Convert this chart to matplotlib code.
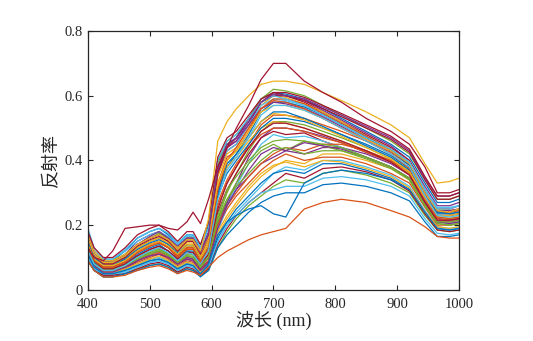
import matplotlib
matplotlib.use("Agg")
import matplotlib.pyplot as plt

# wavelength sampling (nm)
wavelengths = [400, 410, 425, 440, 460, 480, 500, 515, 530, 545, 560, 570, 582,
               595, 610, 625, 640, 660, 680, 700, 720, 750, 780, 810, 850, 890,
               920, 945, 965, 985, 1000]

# reflectance curves, grouped by plateau height
spectra_high = [
    [0.17, 0.12, 0.09, 0.09, 0.12, 0.16, 0.18, 0.19, 0.17, 0.14, 0.17, 0.17, 0.13,
     0.20, 0.40, 0.45, 0.47, 0.53, 0.59, 0.61, 0.605, 0.59, 0.56, 0.53, 0.49, 0.45, 0.41, 0.33, 0.27, 0.27, 0.28],
    [0.16, 0.11, 0.085, 0.085, 0.11, 0.15, 0.17, 0.18, 0.16, 0.13, 0.16, 0.16, 0.12,
     0.18, 0.38, 0.44, 0.46, 0.52, 0.58, 0.60, 0.60, 0.585, 0.555, 0.525, 0.485, 0.445, 0.40, 0.32, 0.26, 0.26, 0.27],
    [0.15, 0.10, 0.08, 0.08, 0.10, 0.14, 0.16, 0.17, 0.15, 0.12, 0.15, 0.15, 0.11,
     0.16, 0.36, 0.43, 0.45, 0.51, 0.58, 0.61, 0.60, 0.58, 0.55, 0.52, 0.48, 0.44, 0.40, 0.31, 0.25, 0.25, 0.26],
    [0.14, 0.10, 0.075, 0.075, 0.095, 0.13, 0.15, 0.16, 0.14, 0.11, 0.14, 0.14, 0.10,
     0.15, 0.35, 0.42, 0.44, 0.50, 0.57, 0.60, 0.595, 0.575, 0.55, 0.52, 0.475, 0.435, 0.395, 0.31, 0.25, 0.245, 0.25],
    [0.18, 0.12, 0.095, 0.095, 0.12, 0.15, 0.17, 0.18, 0.165, 0.14, 0.165, 0.165, 0.13,
     0.19, 0.37, 0.43, 0.45, 0.51, 0.57, 0.59, 0.585, 0.57, 0.545, 0.515, 0.475, 0.435, 0.395, 0.31, 0.255, 0.255, 0.26],
    [0.13, 0.09, 0.07, 0.07, 0.09, 0.12, 0.14, 0.15, 0.13, 0.10, 0.13, 0.13, 0.09,
     0.14, 0.33, 0.41, 0.43, 0.49, 0.56, 0.59, 0.59, 0.575, 0.545, 0.515, 0.475, 0.435, 0.39, 0.30, 0.24, 0.24, 0.245],
    [0.16, 0.11, 0.09, 0.09, 0.11, 0.14, 0.16, 0.175, 0.16, 0.13, 0.16, 0.16, 0.12,
     0.17, 0.39, 0.46, 0.48, 0.53, 0.59, 0.62, 0.615, 0.60, 0.57, 0.54, 0.50, 0.46, 0.42, 0.34, 0.28, 0.28, 0.29],
    [0.12, 0.085, 0.065, 0.065, 0.08, 0.11, 0.13, 0.14, 0.12, 0.095, 0.12, 0.12, 0.085,
     0.13, 0.30, 0.39, 0.42, 0.48, 0.55, 0.58, 0.58, 0.565, 0.54, 0.51, 0.47, 0.43, 0.385, 0.30, 0.24, 0.235, 0.24],
    [0.17, 0.11, 0.085, 0.085, 0.105, 0.14, 0.165, 0.18, 0.16, 0.135, 0.16, 0.16, 0.12,
     0.17, 0.37, 0.44, 0.46, 0.51, 0.56, 0.58, 0.575, 0.56, 0.535, 0.505, 0.465, 0.43, 0.39, 0.30, 0.245, 0.245, 0.25],
    [0.15, 0.10, 0.08, 0.08, 0.10, 0.135, 0.155, 0.165, 0.15, 0.12, 0.15, 0.15, 0.11,
     0.16, 0.36, 0.44, 0.47, 0.53, 0.58, 0.60, 0.60, 0.585, 0.56, 0.535, 0.50, 0.465, 0.425, 0.34, 0.28, 0.28, 0.29],
    [0.14, 0.095, 0.075, 0.075, 0.09, 0.12, 0.14, 0.15, 0.135, 0.11, 0.135, 0.135, 0.095,
     0.14, 0.32, 0.40, 0.43, 0.49, 0.55, 0.57, 0.57, 0.555, 0.53, 0.50, 0.465, 0.43, 0.39, 0.30, 0.245, 0.24, 0.25],
    [0.19, 0.13, 0.095, 0.095, 0.125, 0.16, 0.18, 0.19, 0.175, 0.145, 0.17, 0.17, 0.14,
     0.21, 0.40, 0.46, 0.48, 0.53, 0.58, 0.60, 0.59, 0.57, 0.54, 0.51, 0.47, 0.435, 0.395, 0.31, 0.25, 0.25, 0.26],
    [0.13, 0.09, 0.07, 0.07, 0.085, 0.115, 0.135, 0.145, 0.13, 0.105, 0.13, 0.13, 0.09,
     0.13, 0.31, 0.40, 0.44, 0.50, 0.56, 0.585, 0.58, 0.56, 0.53, 0.50, 0.46, 0.42, 0.375, 0.29, 0.23, 0.23, 0.235],
    [0.16, 0.11, 0.085, 0.085, 0.105, 0.14, 0.16, 0.17, 0.155, 0.125, 0.155, 0.155, 0.115,
     0.17, 0.38, 0.45, 0.47, 0.52, 0.58, 0.605, 0.60, 0.59, 0.565, 0.54, 0.505, 0.47, 0.43, 0.345, 0.29, 0.29, 0.30],
    [0.12, 0.08, 0.06, 0.06, 0.075, 0.10, 0.12, 0.13, 0.115, 0.09, 0.115, 0.11, 0.08,
     0.12, 0.28, 0.37, 0.41, 0.47, 0.54, 0.57, 0.57, 0.555, 0.53, 0.50, 0.46, 0.42, 0.38, 0.29, 0.23, 0.225, 0.23],
    [0.18, 0.13, 0.10, 0.10, 0.13, 0.17, 0.19, 0.20, 0.18, 0.15, 0.18, 0.18, 0.14,
     0.21, 0.41, 0.47, 0.49, 0.54, 0.59, 0.61, 0.61, 0.595, 0.57, 0.545, 0.51, 0.475, 0.435, 0.35, 0.29, 0.29, 0.30],
]

spectra_mid = [
    [0.14, 0.09, 0.07, 0.07, 0.09, 0.12, 0.14, 0.15, 0.13, 0.105, 0.13, 0.13, 0.09,
     0.12, 0.26, 0.33, 0.38, 0.45, 0.51, 0.54, 0.54, 0.53, 0.51, 0.49, 0.46, 0.425, 0.385, 0.30, 0.24, 0.24, 0.245],
    [0.12, 0.08, 0.06, 0.06, 0.075, 0.10, 0.12, 0.13, 0.11, 0.09, 0.11, 0.11, 0.075,
     0.10, 0.22, 0.30, 0.36, 0.43, 0.49, 0.52, 0.52, 0.51, 0.49, 0.47, 0.44, 0.405, 0.37, 0.28, 0.225, 0.22, 0.225],
    [0.15, 0.10, 0.08, 0.08, 0.10, 0.13, 0.15, 0.16, 0.14, 0.115, 0.14, 0.14, 0.10,
     0.14, 0.30, 0.38, 0.42, 0.47, 0.52, 0.55, 0.55, 0.53, 0.505, 0.48, 0.445, 0.41, 0.37, 0.285, 0.23, 0.23, 0.235],
    [0.11, 0.075, 0.055, 0.055, 0.065, 0.09, 0.105, 0.115, 0.10, 0.08, 0.10, 0.095, 0.065,
     0.09, 0.20, 0.27, 0.33, 0.41, 0.47, 0.50, 0.50, 0.49, 0.475, 0.455, 0.425, 0.395, 0.36, 0.275, 0.22, 0.215, 0.22],
    [0.13, 0.085, 0.065, 0.065, 0.08, 0.105, 0.125, 0.135, 0.12, 0.095, 0.12, 0.115, 0.08,
     0.11, 0.24, 0.31, 0.36, 0.42, 0.47, 0.49, 0.48, 0.485, 0.46, 0.44, 0.41, 0.38, 0.345, 0.265, 0.21, 0.21, 0.215],
    [0.16, 0.105, 0.08, 0.08, 0.10, 0.13, 0.15, 0.16, 0.145, 0.12, 0.145, 0.145, 0.105,
     0.15, 0.31, 0.38, 0.41, 0.46, 0.50, 0.52, 0.515, 0.50, 0.48, 0.46, 0.43, 0.40, 0.36, 0.28, 0.225, 0.225, 0.23],
    [0.10, 0.07, 0.05, 0.05, 0.06, 0.08, 0.095, 0.10, 0.09, 0.07, 0.085, 0.08, 0.055,
     0.08, 0.18, 0.26, 0.32, 0.39, 0.45, 0.48, 0.47, 0.475, 0.46, 0.44, 0.41, 0.38, 0.345, 0.265, 0.21, 0.205, 0.21],
    [0.14, 0.09, 0.07, 0.07, 0.085, 0.115, 0.135, 0.145, 0.13, 0.10, 0.125, 0.125, 0.085,
     0.12, 0.27, 0.34, 0.39, 0.44, 0.48, 0.50, 0.50, 0.49, 0.47, 0.455, 0.425, 0.395, 0.355, 0.27, 0.22, 0.215, 0.22],
    [0.12, 0.08, 0.06, 0.06, 0.07, 0.095, 0.11, 0.12, 0.105, 0.085, 0.105, 0.10, 0.07,
     0.10, 0.21, 0.28, 0.33, 0.39, 0.43, 0.45, 0.43, 0.46, 0.445, 0.43, 0.405, 0.375, 0.34, 0.26, 0.205, 0.20, 0.205],
    [0.15, 0.10, 0.075, 0.075, 0.095, 0.125, 0.145, 0.155, 0.14, 0.11, 0.135, 0.135, 0.095,
     0.13, 0.29, 0.36, 0.40, 0.45, 0.50, 0.53, 0.53, 0.52, 0.50, 0.48, 0.45, 0.415, 0.375, 0.29, 0.235, 0.235, 0.24],
    [0.11, 0.075, 0.055, 0.055, 0.07, 0.09, 0.105, 0.11, 0.10, 0.08, 0.095, 0.09, 0.06,
     0.085, 0.19, 0.26, 0.31, 0.37, 0.42, 0.44, 0.43, 0.455, 0.445, 0.435, 0.41, 0.38, 0.345, 0.265, 0.21, 0.205, 0.21],
    [0.13, 0.09, 0.065, 0.065, 0.08, 0.105, 0.125, 0.135, 0.12, 0.095, 0.115, 0.115, 0.08,
     0.11, 0.25, 0.33, 0.38, 0.44, 0.49, 0.515, 0.515, 0.50, 0.48, 0.46, 0.43, 0.395, 0.355, 0.27, 0.215, 0.215, 0.22],
    [0.17, 0.12, 0.09, 0.09, 0.11, 0.14, 0.16, 0.17, 0.155, 0.13, 0.155, 0.155, 0.115,
     0.16, 0.33, 0.40, 0.43, 0.47, 0.52, 0.545, 0.54, 0.525, 0.50, 0.475, 0.44, 0.405, 0.365, 0.285, 0.23, 0.23, 0.235],
    [0.12, 0.08, 0.06, 0.06, 0.075, 0.10, 0.115, 0.125, 0.11, 0.085, 0.105, 0.105, 0.07,
     0.10, 0.23, 0.31, 0.35, 0.40, 0.44, 0.46, 0.465, 0.46, 0.45, 0.44, 0.41, 0.38, 0.34, 0.26, 0.205, 0.20, 0.205],
]

spectra_low = [
    [0.11, 0.07, 0.05, 0.05, 0.06, 0.08, 0.095, 0.10, 0.09, 0.07, 0.085, 0.08, 0.055,
     0.08, 0.17, 0.22, 0.26, 0.31, 0.35, 0.38, 0.40, 0.39, 0.42, 0.42, 0.40, 0.375, 0.34, 0.26, 0.21, 0.205, 0.21],
    [0.10, 0.065, 0.045, 0.045, 0.055, 0.07, 0.085, 0.09, 0.08, 0.06, 0.075, 0.07, 0.05,
     0.07, 0.15, 0.20, 0.24, 0.28, 0.32, 0.36, 0.38, 0.37, 0.40, 0.40, 0.38, 0.355, 0.32, 0.245, 0.195, 0.19, 0.195],
    [0.12, 0.08, 0.055, 0.055, 0.065, 0.085, 0.10, 0.11, 0.095, 0.075, 0.09, 0.085, 0.06,
     0.09, 0.19, 0.25, 0.29, 0.33, 0.37, 0.40, 0.42, 0.40, 0.41, 0.41, 0.39, 0.36, 0.33, 0.255, 0.20, 0.20, 0.205],
    [0.09, 0.06, 0.04, 0.04, 0.05, 0.065, 0.075, 0.08, 0.07, 0.055, 0.065, 0.06, 0.045,
     0.06, 0.13, 0.18, 0.22, 0.26, 0.29, 0.32, 0.34, 0.33, 0.36, 0.37, 0.355, 0.33, 0.30, 0.23, 0.185, 0.18, 0.185],
    [0.10, 0.07, 0.05, 0.05, 0.06, 0.075, 0.09, 0.095, 0.085, 0.065, 0.08, 0.075, 0.05,
     0.075, 0.16, 0.21, 0.25, 0.29, 0.33, 0.36, 0.37, 0.36, 0.39, 0.39, 0.37, 0.345, 0.31, 0.24, 0.19, 0.185, 0.19],
    [0.13, 0.085, 0.06, 0.06, 0.07, 0.09, 0.11, 0.12, 0.105, 0.08, 0.10, 0.095, 0.065,
     0.10, 0.21, 0.27, 0.31, 0.35, 0.39, 0.41, 0.43, 0.42, 0.44, 0.44, 0.42, 0.39, 0.355, 0.275, 0.22, 0.215, 0.22],
    [0.09, 0.06, 0.045, 0.045, 0.05, 0.065, 0.08, 0.085, 0.075, 0.055, 0.07, 0.065, 0.045,
     0.065, 0.14, 0.19, 0.23, 0.27, 0.30, 0.33, 0.36, 0.345, 0.375, 0.38, 0.365, 0.34, 0.305, 0.235, 0.185, 0.18, 0.185],
    [0.11, 0.075, 0.055, 0.055, 0.065, 0.08, 0.095, 0.105, 0.09, 0.07, 0.085, 0.08, 0.055,
     0.085, 0.18, 0.23, 0.27, 0.32, 0.36, 0.385, 0.395, 0.38, 0.40, 0.395, 0.375, 0.35, 0.315, 0.24, 0.195, 0.19, 0.195],
    [0.10, 0.065, 0.05, 0.05, 0.055, 0.07, 0.085, 0.09, 0.08, 0.06, 0.075, 0.07, 0.05,
     0.07, 0.15, 0.20, 0.23, 0.27, 0.30, 0.31, 0.32, 0.32, 0.345, 0.35, 0.34, 0.32, 0.29, 0.22, 0.175, 0.17, 0.175],
    [0.12, 0.08, 0.06, 0.06, 0.07, 0.09, 0.105, 0.115, 0.10, 0.08, 0.095, 0.09, 0.06,
     0.09, 0.20, 0.26, 0.30, 0.35, 0.39, 0.42, 0.44, 0.43, 0.45, 0.45, 0.43, 0.40, 0.365, 0.28, 0.225, 0.22, 0.225],
    [0.13, 0.09, 0.065, 0.065, 0.075, 0.095, 0.115, 0.125, 0.11, 0.085, 0.105, 0.10, 0.07,
     0.11, 0.22, 0.28, 0.32, 0.36, 0.40, 0.43, 0.44, 0.42, 0.43, 0.43, 0.41, 0.38, 0.345, 0.265, 0.21, 0.21, 0.215],
    [0.09, 0.06, 0.04, 0.04, 0.05, 0.06, 0.075, 0.08, 0.07, 0.05, 0.065, 0.06, 0.04,
     0.06, 0.13, 0.17, 0.20, 0.24, 0.27, 0.29, 0.30, 0.30, 0.325, 0.33, 0.32, 0.30, 0.275, 0.21, 0.165, 0.165, 0.17],
]

# the few curves that stand apart from the bundle
spectrum_peak = [0.13, 0.10, 0.09, 0.12, 0.19, 0.195, 0.20, 0.20, 0.19, 0.185, 0.21, 0.24, 0.205,
                 0.28, 0.38, 0.44, 0.50, 0.57, 0.65, 0.70, 0.70, 0.645, 0.61, 0.58, 0.53, 0.49, 0.45, 0.38, 0.30, 0.30, 0.31]
spectrum_early = [0.16, 0.11, 0.085, 0.085, 0.105, 0.14, 0.16, 0.17, 0.155, 0.125, 0.155, 0.155, 0.12,
                  0.22, 0.46, 0.52, 0.56, 0.60, 0.635, 0.645, 0.645, 0.635, 0.61, 0.585, 0.55, 0.51, 0.47, 0.39, 0.33, 0.335, 0.345]
spectrum_lowest = [0.09, 0.06, 0.04, 0.04, 0.045, 0.06, 0.07, 0.075, 0.065, 0.05, 0.06, 0.055, 0.045,
                   0.07, 0.10, 0.12, 0.135, 0.155, 0.17, 0.18, 0.19, 0.25, 0.27, 0.28, 0.27, 0.245, 0.225, 0.195, 0.165, 0.16, 0.16]
spectrum_dip = [0.11, 0.07, 0.05, 0.05, 0.06, 0.075, 0.09, 0.095, 0.085, 0.065, 0.08, 0.075, 0.05,
                0.08, 0.17, 0.21, 0.23, 0.25, 0.26, 0.235, 0.225, 0.33, 0.36, 0.37, 0.36, 0.34, 0.31, 0.24, 0.19, 0.185, 0.19]

x_ticks = [400, 500, 600, 700, 800, 900, 1000]
y_ticks = [0, 0.2, 0.4, 0.6, 0.8]
y_tick_labels = ["0", "0.2", "0.4", "0.6", "0.8"]

matlab_colors = ["#0072BD", "#D95319", "#EDB120", "#7E2F8E", "#77AC30", "#4DBEEE", "#A2142F"]
axis_color = "#262626"
serif = ["Liberation Serif", "Noto Sans CJK SC"]

fig = plt.figure(figsize=(5.33, 3.41), dpi=100)
ax = fig.add_axes([0.165, 0.150, 0.696, 0.759])

# interleave the groups so the colour cycle spreads over them
all_curves = []
for i in range(max(len(spectra_high), len(spectra_mid), len(spectra_low))):
    for group in (spectra_high, spectra_mid, spectra_low):
        if i < len(group):
            all_curves.append(group[i])

for k, curve in enumerate(all_curves):
    ax.plot(wavelengths, curve, color=matlab_colors[k % len(matlab_colors)], linewidth=0.9)

ax.plot(wavelengths, spectrum_dip, color="#0072BD", linewidth=0.9)
ax.plot(wavelengths, spectrum_lowest, color="#D95319", linewidth=0.9)
ax.plot(wavelengths, spectrum_early, color="#EDB120", linewidth=0.9)
ax.plot(wavelengths, spectrum_peak, color="#A2142F", linewidth=0.9)

ax.set_xlim(400, 1000)
ax.set_ylim(0, 0.8)
ax.set_xticks(x_ticks)
ax.set_yticks(y_ticks)
ax.set_yticklabels(y_tick_labels)

for side in ax.spines.values():
    side.set_color(axis_color)
    side.set_linewidth(0.9)
ax.tick_params(direction="in", length=3.5, width=0.8, colors=axis_color,
               top=True, right=True, labelsize=10.5)
ax.tick_params(axis="x", pad=6)
ax.tick_params(axis="y", pad=4)
for lbl in ax.get_xticklabels() + ax.get_yticklabels():
    lbl.set_family(serif)

ax.set_xlabel("波长 (nm)", family=serif, fontsize=13, color=axis_color, labelpad=0)
ax.set_ylabel("反射率", family=serif, fontsize=13, color=axis_color, labelpad=3)

fig.savefig("out.png", dpi=100)
